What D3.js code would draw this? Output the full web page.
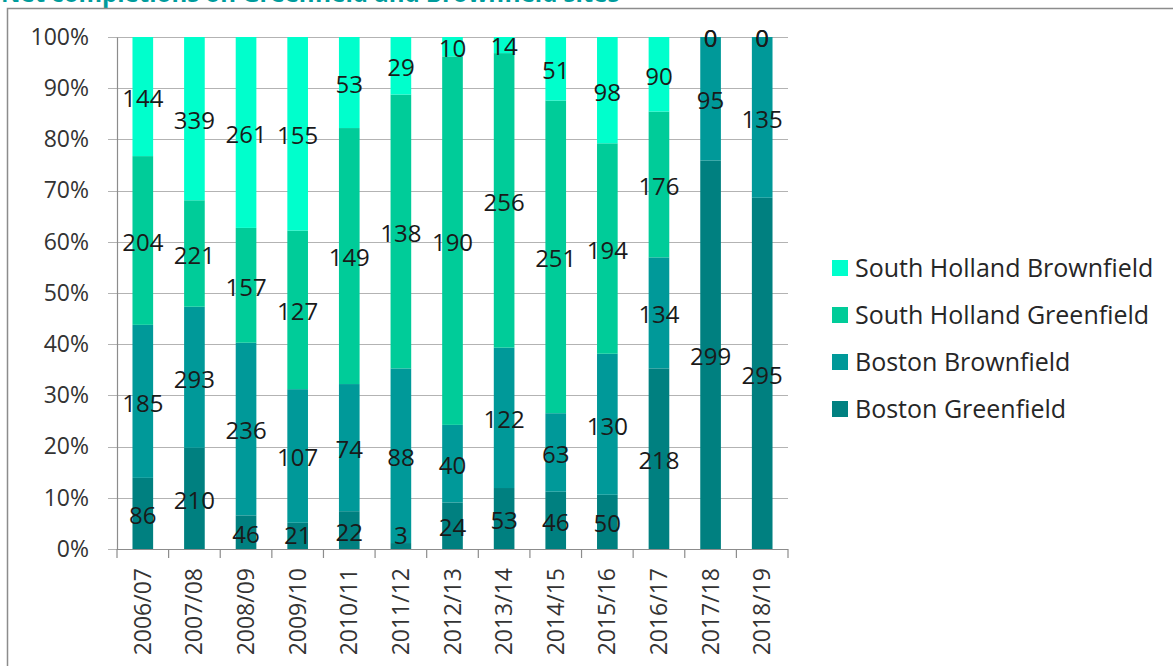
<!DOCTYPE html>
<html>
<head>
<meta charset="utf-8">
<script src="https://cdn.jsdelivr.net/npm/d3@7"></script>
<style>
  html, body { margin: 0; padding: 0; background: #fff; }
  svg { display: block; font-family: "Open Sans", "Noto Sans", sans-serif; }
</style>
</head>
<body>
<svg id="chart" width="1173" height="666"></svg>
<script>
// categories
const years = ['2006/07', '2007/08', '2008/09', '2009/10', '2010/11', '2011/12', '2012/13',
  '2013/14', '2014/15', '2015/16', '2016/17', '2017/18', '2018/19'];

// series values (net completions)
const bostonGreenfield = [86, 210, 46, 21, 22, 3, 24, 53, 46, 50, 218, 299, 295];
const bostonBrownfield = [185, 293, 236, 107, 74, 88, 40, 122, 63, 130, 134, 95, 135];
const southHollandGreenfield = [204, 221, 157, 127, 149, 138, 190, 256, 251, 194, 176, 0, 0];
const southHollandBrownfield = [144, 339, 261, 155, 53, 29, 10, 14, 51, 98, 90, 0, 0];

// y tick labels
const yTicks = [0, 0.1, 0.2, 0.3, 0.4, 0.5, 0.6, 0.7, 0.8, 0.9, 1];

// stack order bottom -> top
const series = [
  { name: 'Boston Greenfield', values: bostonGreenfield, color: '#008080' },
  { name: 'Boston Brownfield', values: bostonBrownfield, color: '#009999' },
  { name: 'South Holland Greenfield', values: southHollandGreenfield, color: '#00CC99' },
  { name: 'South Holland Brownfield', values: southHollandBrownfield, color: '#00FFCC' }
];

const margin = { top: 37, left: 117, right: 385, bottom: 117 };
const width = 1173 - margin.left - margin.right;   // 671
const height = 666 - margin.top - margin.bottom;   // 512

const svg = d3.select('#chart');

// title, clipped at the top like the source
svg.append('text')
  .attr('x', 1)
  .attr('y', 2)
  .attr('fill', '#009C9C')
  .attr('font-weight', 'bold')
  .attr('font-size', 24)
  .text('Net completions on Greenfield and Brownfield sites');

// frame
svg.append('path')
  .attr('d', 'M7.5,666 V8.5 H1173')
  .attr('fill', 'none')
  .attr('stroke', '#8c8c8c')
  .attr('stroke-width', 1.5);

const g = svg.append('g').attr('transform', `translate(${margin.left},${margin.top})`);

// build table for d3.stack
const table = years.map((yr, i) => {
  const row = { year: yr };
  series.forEach(s => { row[s.name] = s.values[i]; });
  return row;
});

const stacked = d3.stack()
  .keys(series.map(s => s.name))
  .offset(d3.stackOffsetExpand)(table);

const x = d3.scaleBand()
  .domain(years)
  .range([0, width])
  .paddingInner(0.6)
  .paddingOuter(0.3);

const y = d3.scaleLinear().domain([0, 1]).range([height, 0]);

// gridlines
g.append('g')
  .selectAll('line')
  .data(yTicks)
  .join('line')
  .attr('x1', -9)
  .attr('x2', width)
  .attr('y1', d => Math.round(y(d)) + 0.5)
  .attr('y2', d => Math.round(y(d)) + 0.5)
  .attr('stroke', '#b3b3b3')
  .attr('stroke-width', 1.2);

// y axis
const yAxis = g.append('g')
  .call(d3.axisLeft(y).tickValues(yTicks).tickFormat(d3.format('.0%')).tickSize(0).tickPadding(28));
yAxis.select('.domain').attr('stroke', '#8c8c8c').attr('stroke-width', 1.2);
yAxis.selectAll('text')
  .attr('font-size', 23)
  .attr('fill', '#333')
  .attr('font-family', '"Open Sans", sans-serif');

// bars
const step = x.step();
const layers = g.append('g')
  .selectAll('g')
  .data(stacked)
  .join('g')
  .attr('fill', (d, i) => series[i].color);

layers.selectAll('rect')
  .data(d => d)
  .join('rect')
  .attr('x', d => x(d.data.year))
  .attr('width', x.bandwidth())
  .attr('y', d => y(d[1]))
  .attr('height', d => y(d[0]) - y(d[1]));

// x axis line + ticks at band boundaries
const xAxisG = g.append('g').attr('transform', `translate(0,${height})`);
xAxisG.append('line')
  .attr('x1', 0).attr('x2', width)
  .attr('y1', 0.5).attr('y2', 0.5)
  .attr('stroke', '#8c8c8c').attr('stroke-width', 1.2);
const boundaries = years.map(yr => x(yr) - step * x.paddingOuter()).concat([width]);
xAxisG.selectAll('.tick-mark')
  .data(boundaries)
  .join('line')
  .attr('class', 'tick-mark')
  .attr('x1', d => d).attr('x2', d => d)
  .attr('y1', 0).attr('y2', 9)
  .attr('stroke', '#8c8c8c').attr('stroke-width', 1.2);

xAxisG.selectAll('.xlabel')
  .data(years)
  .join('text')
  .attr('class', 'xlabel')
  .attr('transform', d => `translate(${x(d) + x.bandwidth() / 2},19) rotate(-90)`)
  .attr('text-anchor', 'end')
  .attr('dy', '0.35em')
  .attr('font-size', 23)
  .attr('fill', '#333')
  .text(d => d);

// data labels, centered on each segment
const labelLayer = g.append('g');
stacked.forEach((layer, li) => {
  labelLayer.selectAll(`.lbl-${li}`)
    .data(layer)
    .join('text')
    .attr('class', `lbl-${li}`)
    .attr('x', d => x(d.data.year) + x.bandwidth() / 2)
    .attr('y', d => Math.min(y((d[0] + d[1]) / 2) + 2, height - 13))
    .attr('dy', '0.35em')
    .attr('text-anchor', 'middle')
    .attr('font-size', 24)
    .attr('fill', '#1a1a1a')
    .text(d => d.data[layer.key]);
});

// legend (top item = top of stack)
const legend = svg.append('g').attr('transform', 'translate(832,268)');
const legendItems = series.slice().reverse();
const li = legend.selectAll('g')
  .data(legendItems)
  .join('g')
  .attr('transform', (d, i) => `translate(0,${i * 47})`);
li.append('rect')
  .attr('x', 0).attr('y', -8)
  .attr('width', 16).attr('height', 16)
  .attr('fill', d => d.color);
li.append('text')
  .attr('x', 23)
  .attr('dy', '0.35em')
  .attr('font-size', 25)
  .attr('fill', '#262626')
  .text(d => d.name);
</script>
</body>
</html>
